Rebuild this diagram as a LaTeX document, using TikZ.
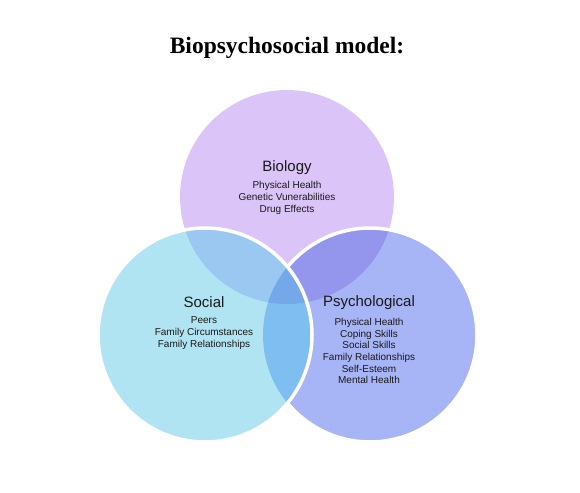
\documentclass[tikz,border=0pt]{standalone}
\usepackage{fontspec}
\setmainfont{Liberation Serif}
\setsansfont{Liberation Sans}
\usepackage{tikz}
\definecolor{bio lilac}{RGB}{218,196,248}
\definecolor{psy blue}{RGB}{167,180,245}
\definecolor{soc cyan}{RGB}{176,228,243}
\definecolor{biopsy violet}{RGB}{148,150,238}
\definecolor{biosoc blue}{RGB}{155,200,240}
\definecolor{socpsy blue}{RGB}{126,190,240}
\definecolor{all blue}{RGB}{116,168,232}

\begin{document}
\begin{tikzpicture}[x=1pt, y=-1pt,
		head/.style={font=\sffamily\fontsize{15}{18}\selectfont, text=black!90},
		items/.style={font=\sffamily\fontsize{10}{11.7}\selectfont, align=center, text=black!90},
		ring/.style={draw=white, line width=3.5pt}]
			\useasboundingbox (0, 0) rectangle (580, 492);
			\coordinate (bio) at (287, 197);
			\coordinate (soc) at (205, 335);
			\coordinate (psy) at (370, 335);
			% biology
			\fill[bio lilac] (bio) circle (107pt);
			% psychological
			\fill[psy blue] (psy) circle (107pt);
			\begin{scope}
				\clip (bio) circle (107pt);
				\fill[biopsy violet] (psy) circle (107pt);
			\end{scope}
			\draw[ring] (psy) circle (107pt);
			% social
			\fill[soc cyan] (soc) circle (107pt);
			\begin{scope}
				\clip (bio) circle (107pt);
				\fill[biosoc blue] (soc) circle (107pt);
			\end{scope}
			\begin{scope}
				\clip (psy) circle (107pt);
				\fill[socpsy blue] (soc) circle (107pt);
			\end{scope}
			\begin{scope}
				\clip (bio) circle (107pt);
				\clip (psy) circle (107pt);
				\fill[all blue] (soc) circle (107pt);
			\end{scope}
			\draw[ring] (soc) circle (107pt);
			% texts
			\node (title) at (287, 48) {\bfseries\fontsize{23.5}{28}\selectfont Biopsychosocial model:};
			\node[head] (biohead) at (287, 168) {Biology};
			\node[items] (biolist) at (287, 198) {Physical Health\\Genetic Vunerabilities\\Drug Effects};
			\node[head] (sochead) at (204, 302) {Social};
			\node[items] (soclist) at (204, 333) {Peers\\Family Circumstances\\Family Relationships};
			\node[head] (psyhead) at (369, 303) {Psychological};
			\node[items] (psylist) at (369, 351) {Physical Health\\Coping Skills\\Social Skills\\Family Relationships\\Self-Esteem\\Mental Health};
		\end{tikzpicture}
\end{document}
